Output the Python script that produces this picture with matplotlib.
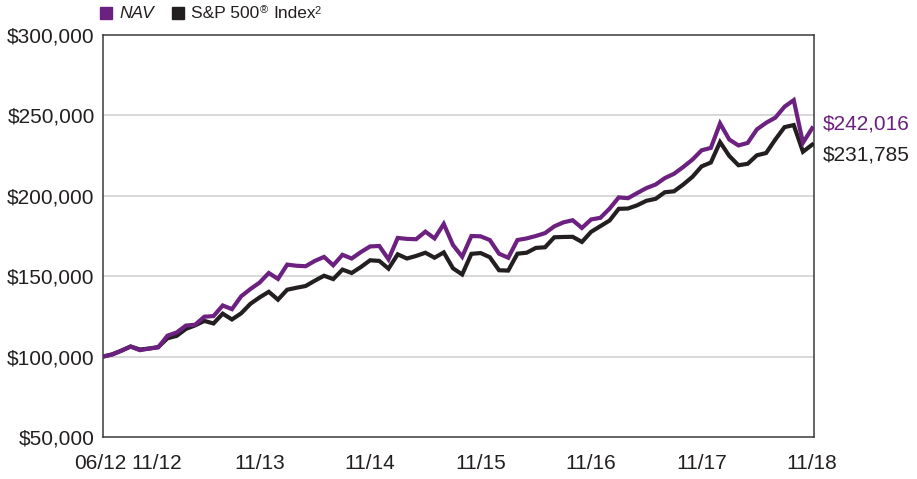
import matplotlib
matplotlib.use("Agg")
import matplotlib.pyplot as plt
import matplotlib.transforms as mtransforms

plt.rcParams['font.family'] = ['Liberation Sans', 'DejaVu Sans']

# Monthly values, 06/12 .. 11/18
nav = [100000, 101300, 103700, 106200, 104000, 105000, 105800, 113000, 115000, 119300,
       119800, 124800, 125200, 131800, 129500, 137500, 142000, 146000, 152000, 148300,
       157200, 156500, 156200, 159500, 162000, 156800, 163300, 161000, 165000, 168500,
       168800, 160500, 173800, 173200, 173000, 177700, 173500, 182500, 169400, 162100,
       175000, 174800, 172500, 164000, 161500, 172500, 173500, 175000, 176800, 181000,
       183500, 184800, 180000, 185300, 186300, 192000, 199000, 198500, 201700, 204800,
       207000, 211000, 213700, 217900, 222500, 228300, 229800, 245000, 235000, 231300,
       232900, 241300, 245400, 248600, 255400, 259500, 233000, 242016]
sp500 = [100000, 101400, 103700, 106300, 104400, 105000, 105900, 111400, 112900, 117200,
         119400, 122200, 120600, 126700, 123100, 126900, 132800, 136800, 140300, 135400,
         141600, 142800, 143900, 147200, 150300, 148200, 154100, 152000, 155700, 159900,
         159500, 154700, 163600, 161000, 162600, 164600, 161500, 164800, 154900, 151100,
         163900, 164400, 161800, 153700, 153500, 164000, 164600, 167600, 168000, 174200,
         174400, 174500, 171300, 177600, 181100, 184600, 191900, 192100, 194100, 196900,
         198100, 202200, 202800, 207000, 211800, 218300, 220700, 233400, 224800, 219000,
         219900, 225200, 226600, 235000, 242700, 244000, 227400, 231785]
tick_months = [0, 5, 17, 29, 41, 53, 65, 77]
tick_labels = ['06/12', '11/12', '11/13', '11/14', '11/15', '11/16', '11/17', '11/18']
y_ticks = [50000, 100000, 150000, 200000, 250000, 300000]
nav_label = '$242,016'
sp_label = '$231,785'

PURPLE = '#6c2180'
BLACK = '#231f20'
TXT = '#231f20'

fig = plt.figure(figsize=(9.17, 4.79), dpi=100)
ax = fig.add_axes([103/917, 1-437/479, (814-103)/917, (437-35)/479])

x = list(range(len(nav)))
ax.plot(x, sp500, color=BLACK, lw=3.0, solid_joinstyle='miter', zorder=3)
ax.plot(x, nav, color=PURPLE, lw=3.0, solid_joinstyle='miter', zorder=4)

ax.set_xlim(0, 77.2)
ax.set_ylim(50000, 300000)
ax.set_yticks(y_ticks)
ax.set_yticklabels(['${:,.0f}'.format(v) for v in y_ticks])
ax.set_xticks(tick_months)
ax.set_xticklabels(tick_labels)
ax.tick_params(length=0, labelsize=15, colors=TXT, pad=6)
ax.tick_params(axis='x', pad=12)

for v in y_ticks[1:-1]:
    ax.axhline(v, color='#d2d2d2', lw=1.2, zorder=1)

for s in ax.spines.values():
    s.set_color('#3a3a3a')
    s.set_linewidth(1.1)

# shift first two x labels to match reference spacing
xl = ax.get_xticklabels()
xl[0].set_transform(xl[0].get_transform() + mtransforms.ScaledTranslation(-3/100, 0, fig.dpi_scale_trans))
xl[1].set_transform(xl[1].get_transform() + mtransforms.ScaledTranslation(8/100, 0, fig.dpi_scale_trans))

# end labels
ax.annotate(nav_label, xy=(77.2, nav[-1]), xytext=(6.5, 3), textcoords='offset points',
            color=PURPLE, fontsize=15, va='center', ha='left', annotation_clip=False)
ax.annotate(sp_label, xy=(77.2, sp500[-1]), xytext=(6.5, -7.5), textcoords='offset points',
            color=BLACK, fontsize=15, va='center', ha='left', annotation_clip=False)

# legend
fig.patches.append(plt.Rectangle((100/917, 1-19/479), 12/917, 12/479, transform=fig.transFigure,
                                 color=PURPLE, figure=fig))
fig.text(119/917, 1-13/479, 'NAV', style='italic', fontsize=12.5, color=TXT, va='center', ha='left')
fig.patches.append(plt.Rectangle((172/917, 1-19/479), 12/917, 12/479, transform=fig.transFigure,
                                 color=BLACK, figure=fig))
t1 = fig.text(191/917, 1-13/479, 'S&P 500', fontsize=12.5, color=TXT, va='center', ha='left')
ax.annotate('®', xy=(1.0, 1.0), xycoords=t1, xytext=(0.5, 0), textcoords='offset points',
            fontsize=8, color=TXT, va='top', ha='left', annotation_clip=False)
a3 = ax.annotate('Index', xy=(1.0, 0.5), xycoords=t1, xytext=(10.5, 0), textcoords='offset points',
                 fontsize=12.5, color=TXT, va='center', ha='left', annotation_clip=False)
ax.annotate('2', xy=(1.0, 1.0), xycoords=a3, xytext=(-1.5, 0), textcoords='offset points',
            fontsize=8, color=TXT, va='top', ha='left', annotation_clip=False)

fig.savefig('out.png', dpi=100)
